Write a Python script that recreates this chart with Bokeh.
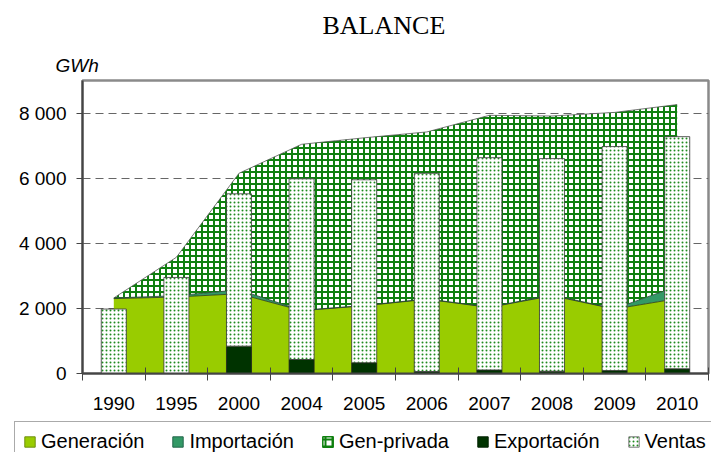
import numpy as np
from bokeh.plotting import figure
from bokeh.models import (ColumnDataSource, FixedTicker, Legend, LegendItem,
                          Title, Range1d)
from bokeh.layouts import column, row
from bokeh.transform import stack
from bokeh.embed import file_html
from bokeh.resources import INLINE

# ---------------- data ----------------
years = ["1990", "1995", "2000", "2004", "2005", "2006", "2007", "2008", "2009", "2010"]
generacion = [2300, 2350, 2450, 1930, 2080, 2280, 2030, 2390, 1980, 2300]
importacion = [20, 40, 120, 10, 10, 10, 10, 20, 10, 380]
gen_privada = [0, 1180, 3580, 5100, 5150, 5130, 5890, 5500, 6030, 5580]
exportacion = [0, 0, 840, 430, 330, 60, 110, 70, 90, 145]
ventas = [1980, 2950, 4680, 5550, 5620, 6090, 6520, 6530, 6880, 7130]
y_ticks = [0, 2000, 4000, 6000, 8000]
y_tick_labels = ["0", "2 000", "4 000", "6 000", "8 000"]
series_names = ["Generación", "Importación", "Gen-privada", "Exportación", "Ventas"]

n = len(years)
centers = list(np.arange(n) + 0.5)
src = ColumnDataSource(dict(x=centers, gen=generacion, imp=importacion,
                            gp=gen_privada, exp=exportacion, ven=ventas))

C_GEN = "#99CC00"
C_IMP = "#339966"
C_EXP = "#003300"
C_HATCH = "#0f800f"
C_DOT = "#1f8a1f"
FONT = "Liberation Sans"

GP_STYLE = dict(fill_color="white", hatch_pattern="+", hatch_color=C_HATCH,
                hatch_scale=6, hatch_weight=2)
VEN_STYLE = dict(fill_color="white", hatch_pattern="dot", hatch_color=C_DOT,
                 hatch_scale=4, hatch_weight=2.6)

# ---------------- main chart ----------------
p = figure(width=711, height=420, x_range=Range1d(0, n), y_range=Range1d(0, 9000),
           output_backend="svg", toolbar_location=None,
           min_border_left=82, min_border_right=3, min_border_top=80,
           min_border_bottom=47)
p.background_fill_color = "white"
p.border_fill_color = "white"
p.outline_line_color = "#8a8a8a"
p.outline_line_width = 2.5

p.title = Title(text="BALANCE", align="left", offset=240, standoff=15,
                text_font="Liberation Serif", text_font_style="normal",
                text_font_size="26px", text_color="black")
p.add_layout(Title(text="GWh", align="left", offset=-27, standoff=10,
                   text_font=FONT, text_font_style="italic",
                   text_font_size="19px", text_color="black"), "above")

# stacked areas
p.varea(x="x", y1=0, y2=stack("gen"), source=src, fill_color=C_GEN)
p.varea(x="x", y1=stack("gen"), y2=stack("gen", "imp"), source=src, fill_color=C_IMP)
p.varea(x="x", y1=stack("gen", "imp"), y2=stack("gen", "imp", "gp"), source=src,
        **GP_STYLE)
p.line(x="x", y=stack("gen"), source=src, line_color="#2a3a10", line_width=0.8)
p.line(x="x", y=stack("gen", "imp"), source=src, line_color="#1f4030", line_width=0.8)
p.line(x="x", y=stack("gen", "imp", "gp"), source=src, line_color="#555555",
       line_width=0.8)
# stacked bars
p.vbar(x="x", bottom=0, top="exp", width=0.4, source=src,
       fill_color=C_EXP, line_color="#222222", line_width=0.8)
p.vbar(x="x", bottom="exp", top=stack("exp", "ven"), width=0.4, source=src,
       line_color="#333333", line_width=0.8, **VEN_STYLE)

xax = p.xaxis[0]
xax.ticker = FixedTicker(ticks=centers, minor_ticks=list(range(n + 1)))
xax.major_label_overrides = {c: y for c, y in zip(centers, years)}
xax.major_tick_in = 0
xax.major_tick_out = 0
xax.minor_tick_in = 6
xax.minor_tick_out = 7
xax.minor_tick_line_color = "#444444"
xax.axis_line_color = "#444444"
xax.axis_line_width = 2
xax.major_label_standoff = 16
xax.major_label_text_font = FONT
xax.major_label_text_font_size = "19px"
xax.major_label_text_color = "black"

yax = p.yaxis[0]
yax.ticker = FixedTicker(ticks=y_ticks)
yax.major_label_overrides = {t: l for t, l in zip(y_ticks, y_tick_labels)}
yax.major_tick_in = 0
yax.major_tick_out = 6
yax.minor_tick_line_color = None
yax.major_tick_line_color = "#444444"
yax.axis_line_color = "#444444"
yax.axis_line_width = 2
yax.major_label_standoff = 10
yax.major_label_text_font = FONT
yax.major_label_text_font_size = "19px"
yax.major_label_text_color = "black"

p.xgrid.visible = False
p.ygrid.ticker = FixedTicker(ticks=y_ticks[1:])
p.ygrid.grid_line_color = "#666666"
p.ygrid.grid_line_dash = "8 5"
p.ygrid.grid_line_width = 1

# ---------------- legend strip ----------------
lg = figure(width=711, height=32, x_range=Range1d(0, n), y_range=Range1d(-3, -2),
            output_backend="svg", toolbar_location=None,
            x_axis_location=None, y_axis_location=None,
            min_border_left=14, min_border_right=0, min_border_top=1,
            min_border_bottom=0)
lg.outline_line_color = None
lg.grid.visible = False
lg.background_fill_color = "white"
lg.border_fill_color = "white"

# legend swatches (drawn outside the strip's visible range)
l_gen = lg.vbar(x="x", top="gen", width=0.4, source=src, fill_color=C_GEN,
                line_color="#6f8f10", line_width=1)
l_imp = lg.vbar(x="x", top="imp", width=0.4, source=src, fill_color=C_IMP,
                line_color="#22664a", line_width=1)
l_gp = lg.vbar(x="x", top="gp", width=0.4, source=src, line_color=C_HATCH,
               line_width=1.5, fill_color="white", hatch_pattern="+",
               hatch_color=C_HATCH, hatch_scale=7, hatch_weight=2)
l_exp = lg.vbar(x="x", top="exp", width=0.4, source=src, fill_color=C_EXP,
                line_color="#002200", line_width=1)
l_ven = lg.vbar(x="x", top="ven", width=0.4, source=src, line_color="#777777",
                line_width=1, **VEN_STYLE)
lg_renderers = [l_gen, l_imp, l_gp, l_exp, l_ven]

legend = Legend(items=[LegendItem(label=name, renderers=[r])
                       for name, r in zip(series_names, lg_renderers)],
                location="top_left", orientation="horizontal",
                glyph_width=13, glyph_height=13, label_standoff=5, spacing=27,
                padding=8, margin=0, label_text_font=FONT,
                label_text_font_size="20px", label_text_color="black",
                border_line_color="#555555", border_line_width=1.5,
                background_fill_color="white", background_fill_alpha=1)
lg.add_layout(legend)

layout = column(p, row(lg), spacing=0)
open("out.html", "w").write(file_html(layout, INLINE))
